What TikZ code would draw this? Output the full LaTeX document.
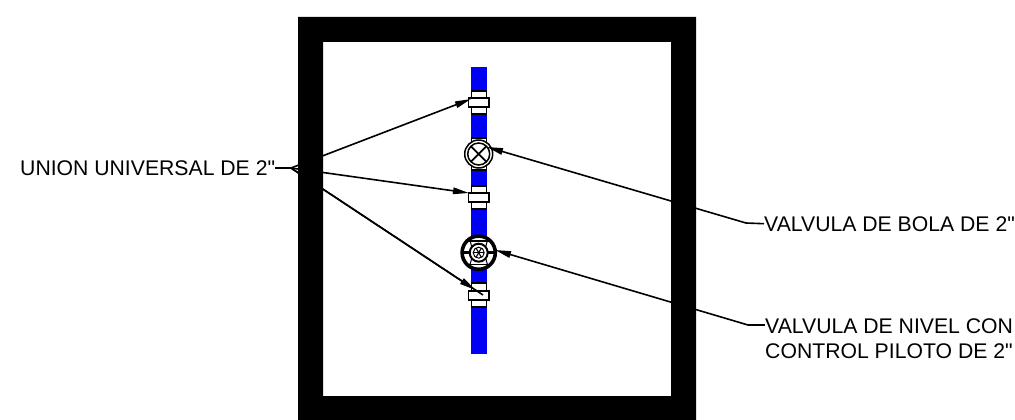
\documentclass[tikz,border=0pt]{standalone}
\usepackage{fontspec}
\setmainfont{Liberation Sans}[Ligatures=TeXOff]
\usetikzlibrary{arrows.meta,calc}
\tikzset{
  x=1pt,y=-1pt,
  lbl/.style={inner sep=0pt,font=\fontsize{21.2}{25}\selectfont,align=left,text=black},
  leader/.style={line width=1.6pt,draw=black},
  pointer/.style={leader,-{Triangle[length=16pt,width=6.5pt]}},
  fitting/.style={draw=black,line width=1.5pt,fill=white},
}
\begin{document}
\begin{tikzpicture}
\useasboundingbox (0,0) rectangle (1015,420);
\fill[white] (0,0) rectangle (1015,420);
% chamber walls
\fill[black,even odd rule] (298,17) rectangle (696,420) (323,42) rectangle (671,396);
% pipe
\fill[blue!95!black] (471,67) rectangle (487,354);
% unions
\foreach \t/\a/\b/\c in {91/98/107/114,186/193/202/209,283/291/300/307}{
  \draw[fitting] (471.5,\t) rectangle (486.5,\c);
  \draw[fitting] (468.5,\a) rectangle (489,\b);
}
% ball valve
\draw[fitting] (471.5,138) rectangle (486.5,170);
\draw[black,line width=1.5pt,fill=white] (478.7,154) circle (14);
\draw[black,line width=1.5pt] (478.7,154) circle (11);
\draw[black,line width=1.8pt] (471,146.3) -- (486.4,161.7) (471,161.7) -- (486.4,146.3);
% level valve
\fill[white] (478.7,252.7) circle (17);
\draw[black,line width=1pt] (469,239) .. controls (473,245) and (473,260) .. (469,266);
\draw[black,line width=1pt] (488.4,239) .. controls (484.4,245) and (484.4,260) .. (488.4,266);
\draw[black,line width=1.2pt] (467,241) -- (490,241) (467,264.5) -- (490,264.5);
\draw[black,line width=3.6pt] (478.7,252.7) circle (16.6);
\draw[black,line width=3pt] (461,252.7) -- (472,252.7) (485.5,252.7) -- (496,252.7);
\draw[black,line width=2pt,fill=white] (478.7,252.7) circle (9);
\draw[black,line width=1pt] (478.7,252.7) circle (5.5);
\foreach \q in {0,60,...,300}{\draw[black,line width=1.1pt] (478.7,252.7) -- +(\q:5.5);}
% named ends
\coordinate (fan) at (291,168);
\coordinate (u1) at (471,99);
\coordinate (u2) at (469,193);
\coordinate (u3) at (483,295);
\coordinate (bv) at (487,147);
\coordinate (lv) at (495,250);
\coordinate (e1) at (746,223);
\coordinate (e2) at (748,325);
% labels
\node[lbl,anchor=north west] (ln) at (20,160) {UNION UNIVERSAL DE 2"};
\node[lbl,anchor=north west] (lb) at (764,216) {VALVULA DE BOLA DE 2"};
\node[lbl,anchor=north west] (ll) at (765,318) {VALVULA DE NIVEL CON\\CONTROL PILOTO DE 2"};
% leaders
\draw[leader] (ln.east |- fan) -- (fan);
\draw[pointer] (fan) -- (u1);
\draw[pointer] (fan) -- (u2);
\draw[leader] (fan) -- (u3);
\draw[pointer] (fan) -- ($(fan)!0.96!(u3)$);
\draw[pointer] (e1) -- (bv);
\draw[leader] (e1) -- (lb.west);
\draw[pointer] (e2) -- (lv);
\draw[leader] (e2) -- (e2 -| ll.west);
\end{tikzpicture}
\end{document}
